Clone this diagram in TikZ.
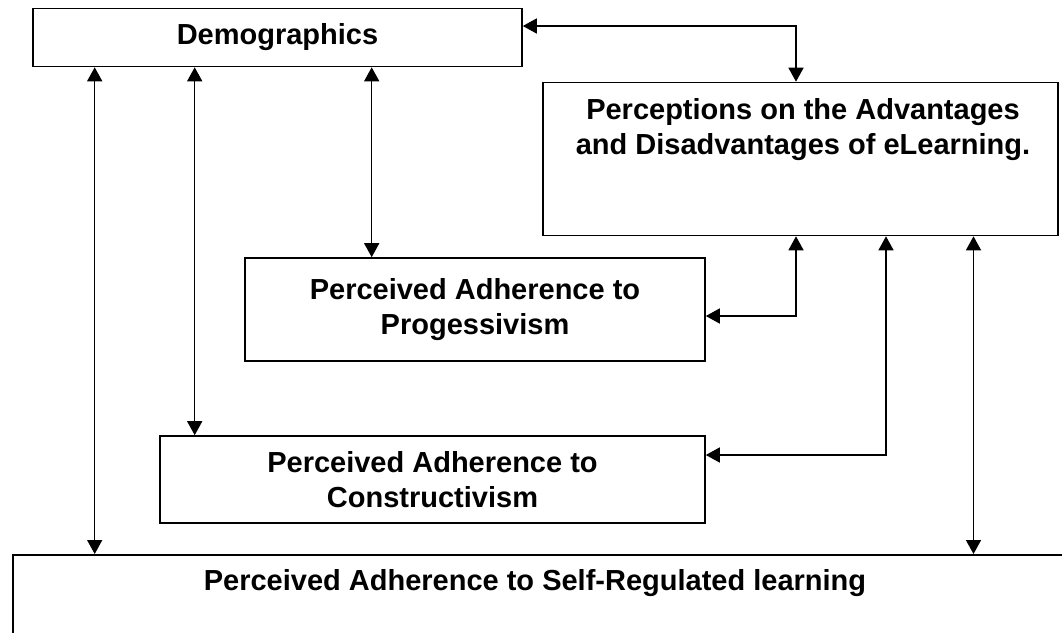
\documentclass[tikz,border=0pt]{standalone}
\usepackage{fontspec}
\setmainfont{Liberation Sans}
\usetikzlibrary{arrows.meta}
\begin{document}
\begin{tikzpicture}[x=1pt,y=-1pt,
  box/.style={draw, line width=1.6pt, inner sep=0pt, rectangle},
  txt/.style={font=\bfseries\fontsize{29}{35}\selectfont, align=center, inner sep=0pt},
  link/.style={line width=1.5pt, {Triangle[length=14pt,width=15pt]}-{Triangle[length=14pt,width=15pt]}}]
\clip (0,0) rectangle (1062,632);
% boxes
\node[box, minimum width=489pt, minimum height=58pt] (demo) at (277.5,37.5) {};
\node[txt] (demotext) at (demo.center) {Demographics};
\node[box, minimum width=515pt, minimum height=153pt] (perc) at (800.5,159) {};
\node[txt] (perctext) at (803,130) {Perceptions on the Advantages\\and Disadvantages of eLearning.};
\node[box, minimum width=460pt, minimum height=103pt, txt] (prog) at (475,309.5) {Perceived Adherence to\\Progessivism};
\node[box, minimum width=545pt, minimum height=87pt, txt] (cons) at (432.5,479.5) {Perceived Adherence to\\Constructivism};
\node[box, minimum width=1100pt, minimum height=120pt, anchor=north west] (srl) at (12,554) {};
\node[txt] (srltext) at (535,583) {Perceived Adherence to Self-Regulated learning};
% anchor points on the box edges
\coordinate (d1) at ([xshift=62.5pt]demo.south west);
\coordinate (d2) at ([xshift=162.5pt]demo.south west);
\coordinate (d3) at ([xshift=339.5pt]demo.south west);
\coordinate (p1) at ([xshift=-4.5pt]perc.south);
\coordinate (p2) at ([xshift=85.5pt]perc.south);
\coordinate (p3) at ([xshift=173pt]perc.south);
% connectors
\draw[link] ([yshift=11.5pt]demo.east) -| (perc.north -| p1);
\draw[link] (d1) -- (d1 |- srl.north);
\draw[link] (d2) -- (d2 |- cons.north);
\draw[link] (d3) -- (d3 |- prog.north);
\draw[link] ([yshift=-6.5pt]prog.east) -| (p1);
\draw[link] ([yshift=24.5pt]cons.east) -| (p2);
\draw[link] (p3) -- (p3 |- srl.north);
\end{tikzpicture}
\end{document}
